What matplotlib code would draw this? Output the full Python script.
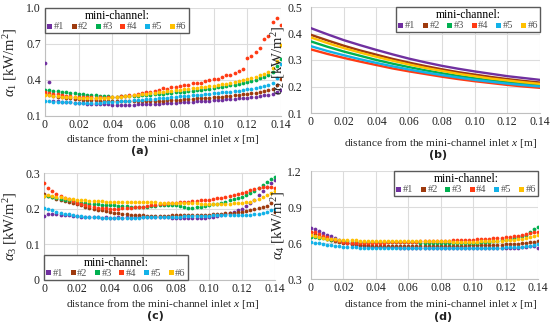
import numpy as np
import matplotlib
matplotlib.use("Agg")
import matplotlib.pyplot as plt

plt.rcParams['font.family'] = ['Liberation Serif', 'DejaVu Serif']
plt.rcParams['mathtext.fontset'] = 'custom'
plt.rcParams['mathtext.rm'] = 'Liberation Serif'
plt.rcParams['mathtext.it'] = 'Liberation Serif:italic'

# ---------------- data ----------------
channels = ['#1', '#2', '#3', '#4', '#5', '#6']
colors = ['#7030A0', '#9E3A0E', '#00B050', '#FF3B14', '#12B2E8', '#FFC000']
x_tick_labels = ['0', '0.02', '0.04', '0.06', '0.08', '0.10', '0.12', '0.14']

# scatter panels: x positions 0 ... 0.14 m (57 samples)
x_scatter = np.linspace(0, 0.14, 57)
# smooth panel (b): 15 samples
x_line = np.linspace(0, 0.14, 15)

a1_ch1 = [0.54, 0.38, 0.225, 0.222, 0.218, 0.215, 0.213, 0.210,
          0.208, 0.205, 0.204, 0.202, 0.200, 0.199, 0.197, 0.196,
          0.195, 0.194, 0.195, 0.193, 0.194, 0.195, 0.196, 0.197,
          0.199, 0.200, 0.202, 0.204, 0.205, 0.207, 0.209, 0.211,
          0.213, 0.215, 0.217, 0.219, 0.222, 0.224, 0.226, 0.229,
          0.231, 0.234, 0.236, 0.239, 0.242, 0.245, 0.248, 0.251,
          0.254, 0.258, 0.262, 0.266, 0.271, 0.277, 0.284, 0.300, 0.315]
a1_ch2 = [0.285, 0.275, 0.268, 0.262, 0.255, 0.250, 0.246, 0.242,
          0.239, 0.236, 0.234, 0.232, 0.230, 0.228, 0.227, 0.226,
          0.225, 0.224, 0.223, 0.222, 0.222, 0.221, 0.222, 0.222,
          0.223, 0.224, 0.226, 0.227, 0.229, 0.231, 0.233, 0.235,
          0.237, 0.239, 0.241, 0.244, 0.246, 0.248, 0.251, 0.254,
          0.257, 0.259, 0.262, 0.266, 0.269, 0.272, 0.276, 0.280,
          0.284, 0.289, 0.294, 0.300, 0.306, 0.314, 0.324, 0.360, 0.405]
a1_ch3 = [0.320, 0.318, 0.312, 0.305, 0.300, 0.296, 0.292, 0.288,
          0.284, 0.280, 0.277, 0.274, 0.271, 0.268, 0.266, 0.264,
          0.262, 0.262, 0.263, 0.264, 0.266, 0.268, 0.270, 0.272,
          0.275, 0.278, 0.281, 0.284, 0.287, 0.290, 0.293, 0.296,
          0.299, 0.303, 0.307, 0.311, 0.315, 0.319, 0.323, 0.328,
          0.333, 0.338, 0.343, 0.349, 0.355, 0.362, 0.369, 0.377,
          0.385, 0.394, 0.404, 0.415, 0.428, 0.445, 0.470, 0.520, 0.575]
a1_ch4 = [0.300, 0.295, 0.285, 0.280, 0.272, 0.268, 0.263, 0.260,
          0.258, 0.262, 0.255, 0.257, 0.253, 0.258, 0.254, 0.256,
          0.258, 0.262, 0.266, 0.263, 0.272, 0.276, 0.283, 0.290,
          0.296, 0.303, 0.312, 0.318, 0.330, 0.326, 0.338, 0.345,
          0.352, 0.360, 0.356, 0.372, 0.378, 0.372, 0.392, 0.398,
          0.410, 0.405, 0.425, 0.438, 0.445, 0.462, 0.475, 0.495,
          0.580, 0.600, 0.630, 0.670, 0.740, 0.770, 0.880, 0.920, 0.860]
a1_ch5 = [0.225, 0.222, 0.220, 0.218, 0.216, 0.214, 0.213, 0.212,
          0.211, 0.210, 0.210, 0.210, 0.211, 0.212, 0.213, 0.214,
          0.216, 0.218, 0.221, 0.224, 0.227, 0.230, 0.233, 0.236,
          0.239, 0.242, 0.245, 0.248, 0.251, 0.254, 0.257, 0.260,
          0.263, 0.266, 0.269, 0.272, 0.275, 0.278, 0.282, 0.285,
          0.289, 0.292, 0.296, 0.300, 0.304, 0.308, 0.312, 0.316,
          0.321, 0.326, 0.332, 0.339, 0.347, 0.358, 0.375, 0.420, 0.530]
a1_ch6 = [0.275, 0.272, 0.268, 0.265, 0.262, 0.259, 0.257, 0.255,
          0.253, 0.252, 0.251, 0.250, 0.250, 0.251, 0.252, 0.253,
          0.255, 0.258, 0.262, 0.266, 0.270, 0.274, 0.278, 0.282,
          0.286, 0.290, 0.294, 0.298, 0.302, 0.306, 0.310, 0.314,
          0.318, 0.322, 0.326, 0.330, 0.334, 0.338, 0.343, 0.348,
          0.353, 0.358, 0.364, 0.370, 0.376, 0.383, 0.390, 0.398,
          0.407, 0.416, 0.426, 0.438, 0.452, 0.470, 0.500, 0.560, 0.690]

a2_ch1 = [0.420, 0.397, 0.375, 0.356, 0.338, 0.321, 0.305, 0.291, 0.278, 0.267, 0.257, 0.248, 0.239, 0.232, 0.225]
a2_ch2 = [0.395, 0.374, 0.354, 0.336, 0.320, 0.304, 0.290, 0.277, 0.265, 0.254, 0.245, 0.236, 0.228, 0.221, 0.215]
a2_ch3 = [0.370, 0.350, 0.332, 0.316, 0.300, 0.286, 0.273, 0.261, 0.250, 0.240, 0.231, 0.223, 0.216, 0.210, 0.205]
a2_ch4 = [0.340, 0.323, 0.308, 0.294, 0.281, 0.268, 0.257, 0.247, 0.237, 0.228, 0.220, 0.213, 0.206, 0.200, 0.195]
a2_ch5 = [0.352, 0.334, 0.318, 0.303, 0.289, 0.276, 0.264, 0.253, 0.243, 0.234, 0.225, 0.218, 0.211, 0.205, 0.200]
a2_ch6 = [0.385, 0.364, 0.345, 0.328, 0.312, 0.297, 0.283, 0.270, 0.259, 0.248, 0.239, 0.230, 0.223, 0.216, 0.210]

a3_ch1 = [0.180, 0.186, 0.185, 0.184, 0.183, 0.182, 0.181, 0.180,
          0.179, 0.178, 0.177, 0.177, 0.176, 0.176, 0.175, 0.176,
          0.175, 0.175, 0.176, 0.175, 0.176, 0.175, 0.176, 0.176,
          0.177, 0.176, 0.177, 0.176, 0.177, 0.176, 0.176, 0.175,
          0.175, 0.174, 0.175, 0.174, 0.175, 0.174, 0.175, 0.175,
          0.176, 0.177, 0.179, 0.182, 0.185, 0.188, 0.191, 0.195,
          0.200, 0.207, 0.215, 0.225, 0.238, 0.250, 0.262, 0.272, 0.280]
a3_ch2 = [0.240, 0.236, 0.232, 0.228, 0.224, 0.221, 0.218, 0.215,
          0.212, 0.209, 0.206, 0.203, 0.200, 0.197, 0.195, 0.193,
          0.191, 0.189, 0.187, 0.185, 0.184, 0.183, 0.182, 0.181,
          0.181, 0.180, 0.180, 0.180, 0.180, 0.180, 0.180, 0.181,
          0.181, 0.181, 0.181, 0.182, 0.182, 0.182, 0.182, 0.183,
          0.183, 0.184, 0.185, 0.186, 0.187, 0.188, 0.189, 0.190,
          0.192, 0.194, 0.196, 0.199, 0.202, 0.205, 0.208, 0.215, 0.192]
a3_ch3 = [0.235, 0.236, 0.233, 0.230, 0.227, 0.225, 0.223, 0.221,
          0.219, 0.217, 0.215, 0.214, 0.213, 0.212, 0.211, 0.210,
          0.210, 0.209, 0.208, 0.208, 0.207, 0.206, 0.206, 0.205,
          0.205, 0.206, 0.207, 0.208, 0.209, 0.210, 0.211, 0.210,
          0.209, 0.207, 0.205, 0.203, 0.203, 0.204, 0.206, 0.208,
          0.210, 0.212, 0.214, 0.217, 0.220, 0.223, 0.226, 0.229,
          0.233, 0.238, 0.243, 0.250, 0.258, 0.265, 0.274, 0.283, 0.288]
a3_ch4 = [0.272, 0.258, 0.250, 0.242, 0.236, 0.230, 0.226, 0.222,
          0.217, 0.213, 0.210, 0.207, 0.205, 0.203, 0.202, 0.201,
          0.200, 0.200, 0.200, 0.201, 0.202, 0.203, 0.204, 0.205,
          0.206, 0.208, 0.209, 0.211, 0.212, 0.214, 0.215, 0.216,
          0.217, 0.218, 0.219, 0.220, 0.221, 0.222, 0.223, 0.224,
          0.225, 0.227, 0.229, 0.231, 0.233, 0.236, 0.239, 0.242,
          0.245, 0.248, 0.251, 0.254, 0.257, 0.260, 0.262, 0.260, 0.258]
a3_ch5 = [0.203, 0.200, 0.196, 0.192, 0.189, 0.186, 0.184, 0.182,
          0.180, 0.179, 0.178, 0.177, 0.176, 0.176, 0.175, 0.175,
          0.175, 0.175, 0.175, 0.175, 0.175, 0.175, 0.175, 0.175,
          0.176, 0.176, 0.176, 0.177, 0.177, 0.177, 0.178, 0.178,
          0.178, 0.178, 0.179, 0.179, 0.179, 0.180, 0.180, 0.180,
          0.180, 0.181, 0.181, 0.181, 0.181, 0.182, 0.182, 0.182,
          0.182, 0.182, 0.183, 0.184, 0.186, 0.189, 0.192, 0.196, 0.198]
a3_ch6 = [0.235, 0.238, 0.236, 0.234, 0.232, 0.230, 0.228, 0.227,
          0.225, 0.224, 0.223, 0.222, 0.222, 0.221, 0.221, 0.220,
          0.220, 0.220, 0.220, 0.220, 0.219, 0.219, 0.219, 0.219,
          0.218, 0.218, 0.218, 0.218, 0.217, 0.217, 0.217, 0.216,
          0.216, 0.216, 0.215, 0.215, 0.215, 0.215, 0.214, 0.214,
          0.214, 0.214, 0.214, 0.214, 0.214, 0.214, 0.215, 0.215,
          0.216, 0.218, 0.220, 0.223, 0.227, 0.232, 0.238, 0.244, 0.250]

a4_ch1 = [0.725, 0.715, 0.700, 0.685, 0.670, 0.655, 0.640, 0.625,
          0.610, 0.600, 0.592, 0.585, 0.580, 0.576, 0.573, 0.570,
          0.568, 0.566, 0.565, 0.564, 0.563, 0.563, 0.562, 0.562,
          0.562, 0.561, 0.561, 0.561, 0.561, 0.561, 0.560, 0.560,
          0.560, 0.560, 0.560, 0.559, 0.559, 0.559, 0.558, 0.558,
          0.558, 0.557, 0.557, 0.557, 0.557, 0.556, 0.556, 0.556,
          0.557, 0.558, 0.560, 0.562, 0.565, 0.568, 0.572, 0.576, 0.560]
a4_ch2 = [0.690, 0.675, 0.660, 0.648, 0.637, 0.627, 0.618, 0.610,
          0.603, 0.597, 0.592, 0.588, 0.585, 0.582, 0.580, 0.578,
          0.577, 0.576, 0.575, 0.574, 0.574, 0.573, 0.573, 0.573,
          0.573, 0.573, 0.573, 0.574, 0.574, 0.575, 0.575, 0.576,
          0.576, 0.577, 0.577, 0.578, 0.578, 0.579, 0.579, 0.580,
          0.580, 0.581, 0.582, 0.583, 0.584, 0.585, 0.586, 0.587,
          0.588, 0.590, 0.592, 0.595, 0.598, 0.602, 0.607, 0.612, 0.620]
a4_ch3 = [0.650, 0.652, 0.645, 0.638, 0.632, 0.627, 0.623, 0.619,
          0.616, 0.614, 0.612, 0.611, 0.610, 0.610, 0.609, 0.609,
          0.608, 0.608, 0.607, 0.607, 0.607, 0.606, 0.606, 0.606,
          0.606, 0.605, 0.605, 0.604, 0.604, 0.603, 0.603, 0.602,
          0.602, 0.601, 0.601, 0.600, 0.600, 0.600, 0.600, 0.601,
          0.602, 0.604, 0.606, 0.609, 0.612, 0.615, 0.619, 0.623,
          0.628, 0.634, 0.641, 0.649, 0.658, 0.668, 0.690, 0.720, 0.735]
a4_ch4 = [0.695, 0.690, 0.675, 0.660, 0.647, 0.635, 0.625, 0.615,
          0.607, 0.602, 0.600, 0.599, 0.599, 0.600, 0.600, 0.601,
          0.602, 0.603, 0.604, 0.605, 0.606, 0.607, 0.608, 0.609,
          0.610, 0.611, 0.612, 0.613, 0.614, 0.615, 0.616, 0.617,
          0.618, 0.619, 0.620, 0.621, 0.622, 0.623, 0.625, 0.626,
          0.628, 0.630, 0.632, 0.634, 0.636, 0.639, 0.642, 0.645,
          0.648, 0.652, 0.656, 0.661, 0.666, 0.672, 0.680, 0.688, 0.692]
a4_ch5 = [0.605, 0.602, 0.597, 0.592, 0.587, 0.582, 0.578, 0.574,
          0.570, 0.567, 0.565, 0.563, 0.561, 0.560, 0.559, 0.558,
          0.557, 0.557, 0.556, 0.556, 0.556, 0.555, 0.555, 0.555,
          0.555, 0.555, 0.555, 0.555, 0.555, 0.555, 0.555, 0.555,
          0.555, 0.555, 0.556, 0.556, 0.556, 0.556, 0.557, 0.557,
          0.557, 0.558, 0.558, 0.559, 0.559, 0.560, 0.561, 0.562,
          0.563, 0.564, 0.566, 0.568, 0.570, 0.573, 0.578, 0.584, 0.592]
a4_ch6 = [0.665, 0.655, 0.648, 0.642, 0.637, 0.633, 0.630, 0.627,
          0.625, 0.623, 0.622, 0.621, 0.620, 0.620, 0.619, 0.619,
          0.619, 0.618, 0.618, 0.618, 0.617, 0.617, 0.617, 0.616,
          0.616, 0.616, 0.615, 0.615, 0.615, 0.614, 0.614, 0.614,
          0.613, 0.613, 0.613, 0.612, 0.612, 0.612, 0.612, 0.612,
          0.612, 0.612, 0.613, 0.614, 0.615, 0.616, 0.618, 0.620,
          0.622, 0.625, 0.628, 0.632, 0.637, 0.643, 0.650, 0.660, 0.670]

panels = [
    dict(series=[a1_ch1, a1_ch2, a1_ch3, a1_ch4, a1_ch5, a1_ch6], x=x_scatter, kind='scatter',
         ylim=(0.1, 1.0), yticks=[0.1, 0.4, 0.7, 1.0], ylabels=['0.1', '0.4', '0.7', '1.0'],
         sub='1', letter='a', rect=(45, 8, 281, 116), loc='upper left', anchor=(0, 1),
         xl=(163, 139), let=(140, 151), ypad=3.0, ylab_right=19),
    dict(series=[a2_ch1, a2_ch2, a2_ch3, a2_ch4, a2_ch5, a2_ch6], x=x_line, kind='line',
         ylim=(0.1, 0.5), yticks=[0.1, 0.2, 0.3, 0.4, 0.5], ylabels=['0.1', '0.2', '0.3', '0.4', '0.5'],
         sub='2', letter='b', rect=(311, 7, 540, 113), loc='upper right', anchor=(1, 1),
         xl=(441, 143), let=(438, 155), ypad=6.5, ylab_right=287),
    dict(series=[a3_ch1, a3_ch2, a3_ch3, a3_ch4, a3_ch5, a3_ch6], x=x_scatter, kind='scatter',
         ylim=(0.0, 0.3), yticks=[0.0, 0.1, 0.2, 0.3], ylabels=['0', '0.1', '0.2', '0.3'],
         sub='3', letter='c', rect=(44, 173, 275, 280), loc='lower left', anchor=(0, 0),
         xl=(163, 304), let=(155, 316), ypad=3.0, ylab_right=19),
    dict(series=[a4_ch1, a4_ch2, a4_ch3, a4_ch4, a4_ch5, a4_ch6], x=x_scatter, kind='scatter',
         ylim=(0.3, 1.2), yticks=[0.3, 0.6, 0.9, 1.2], ylabels=['0.3', '0.6', '0.9', '1.2'],
         sub='4', letter='d', rect=(311, 171, 538, 279), loc='upper right', anchor=(1, 1),
         xl=(441, 304), let=(443, 317), ypad=6.5, ylab_right=287),
]

W, H = 550, 326
fig = plt.figure(figsize=(5.5, 3.26), dpi=100)
fig.patch.set_facecolor('white')

xticks = [0, 0.02, 0.04, 0.06, 0.08, 0.10, 0.12, 0.14]
for p in panels:
    l, t, r, b = p['rect']
    ax = fig.add_axes([l / W, 1 - b / H, (r - l) / W, (b - t) / H])
    for vals, c, name in zip(p['series'], colors, channels):
        if p['kind'] == 'scatter':
            ax.plot(p['x'], vals, linestyle='none', marker='o', markersize=2.7,
                    markeredgewidth=0, color=c, label=name, zorder=3)
        else:
            ax.plot(p['x'], vals, color=c, lw=1.7, label=name, zorder=3)
    ax.set_xlim(0, 0.14)
    ax.set_ylim(*p['ylim'])
    ax.set_xticks(xticks)
    ax.set_xticklabels(x_tick_labels)
    ax.set_yticks(p['yticks'])
    ax.set_yticklabels(p['ylabels'])
    ax.grid(True, color='#DCDCDC', lw=0.8, zorder=0)
    ax.set_axisbelow(True)
    for s in ['top', 'right']:
        ax.spines[s].set_visible(False)
    for s in ['left', 'bottom']:
        ax.spines[s].set_color('#BFBFBF')
        ax.spines[s].set_linewidth(0.8)
    ax.tick_params(length=0, labelsize=8.5, colors='#222222')
    ax.tick_params(axis='x', pad=2.5)
    ax.tick_params(axis='y', pad=p['ypad'])
    ax.set_ylabel(r'$\alpha_%s$ [kW/m$^2$]' % p['sub'], fontsize=10.5, color='#222222')
    ax.yaxis.set_label_coords((p['ylab_right'] - l) / (r - l), 0.5)
    handles = [plt.Line2D([], [], linestyle='none', marker='s', markersize=3.6,
                          markeredgewidth=0, color=c) for c in colors]
    leg = ax.legend(handles, channels, title='mini-channel:', loc=p['loc'],
                    bbox_to_anchor=p['anchor'], borderaxespad=0, ncol=6,
                    fontsize=7.5, title_fontsize=8.5, handlelength=0.4, handletextpad=0.25,
                    columnspacing=0.7, borderpad=0.2, labelspacing=0.1,
                    fancybox=False, framealpha=1, edgecolor='#5A5A5A')
    leg.get_frame().set_linewidth(1.0)
    leg._legend_box.sep = 0
    for txt in leg.get_texts():
        txt.set_color('#555555')
    leg.set_zorder(5)
    fig.text(p['xl'][0] / W, 1 - p['xl'][1] / H,
             r'distance from the mini-channel inlet $x$ [m]',
             ha='center', va='center', fontsize=8.2, color='#222222')
    fig.text(p['let'][0] / W, 1 - p['let'][1] / H, '(' + p['letter'] + ')',
             ha='center', va='center', fontsize=8, fontweight='bold',
             family='DejaVu Sans', color='#222222')

fig.savefig('out.png', dpi=100, facecolor='white')
